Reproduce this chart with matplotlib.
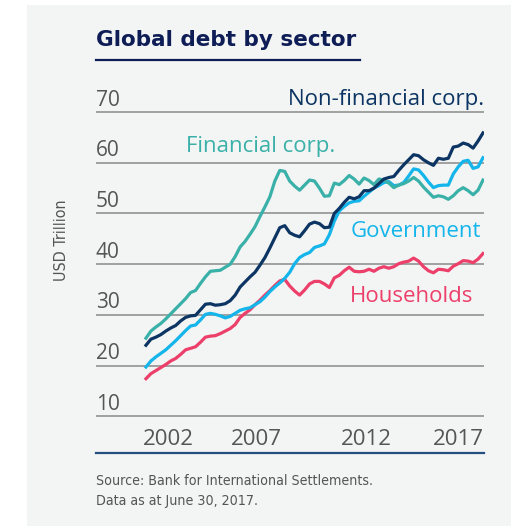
import numpy as np
import matplotlib
matplotlib.use("Agg")
import matplotlib.pyplot as plt
from matplotlib.patches import Rectangle
from matplotlib.lines import Line2D
import matplotlib.transforms as mtransforms

# quarterly observations, 2000Q1 .. 2017Q1 (USD trillion)
quarters = np.arange(2000, 2017.01, 0.25)

non_financial = [
    24.0, 25.2, 25.6, 26.1, 26.8, 27.4, 27.9, 28.8, 29.5, 29.8,
    29.9, 31.0, 32.1, 32.2, 31.9, 32.0, 32.2, 32.8, 33.9, 35.5,
    36.5, 37.5, 38.4, 39.8, 41.3, 43.2, 45.2, 47.2, 47.6, 46.2,
    45.7, 45.4, 46.6, 47.9, 48.3, 48.0, 47.2, 47.3, 50.0, 51.0,
    52.2, 53.2, 52.9, 53.3, 54.5, 54.5, 55.0, 55.9, 56.8, 57.1,
    57.3, 58.5, 59.6, 60.6, 61.6, 61.4, 60.6, 60.0, 59.5, 60.9,
    60.7, 60.9, 63.1, 63.3, 63.9, 63.6, 62.9, 64.3, 65.9,
]
financial = [
    25.4, 26.8, 27.6, 28.3, 29.2, 30.2, 31.2, 32.2, 33.2, 34.4,
    34.8, 36.2, 37.5, 38.6, 38.7, 38.8, 39.4, 40.0, 41.5, 43.4,
    44.5, 45.9, 47.4, 49.4, 51.3, 53.3, 56.4, 58.5, 58.3, 56.4,
    55.4, 54.6, 55.6, 56.6, 56.4, 55.0, 53.4, 53.5, 56.0, 55.7,
    56.5, 57.5, 56.8, 55.8, 57.0, 56.5, 55.7, 56.8, 56.6, 56.0,
    55.1, 55.6, 55.9, 56.4, 57.1, 56.4, 55.2, 54.2, 53.2, 53.5,
    53.3, 52.8, 53.5, 54.5, 55.1, 54.5, 53.7, 54.6, 56.6,
]
government = [
    19.7, 20.9, 21.7, 22.4, 23.1, 24.0, 24.9, 25.9, 26.9, 27.8,
    28.0, 29.0, 30.1, 30.3, 30.1, 29.8, 29.4, 29.7, 30.3, 30.9,
    31.2, 31.4, 32.0, 32.6, 33.5, 34.6, 35.5, 36.3, 37.2, 38.4,
    40.1, 41.3, 41.9, 42.3, 43.3, 43.6, 44.0, 45.8, 48.5, 50.5,
    51.4, 52.1, 52.4, 52.5, 53.4, 54.2, 55.0, 55.5, 56.1, 56.3,
    55.5, 55.6, 56.1, 57.4, 58.8, 58.6, 57.5, 56.2, 55.1, 55.5,
    55.6, 55.6, 57.8, 59.2, 60.3, 60.5, 58.9, 59.2, 61.0,
]
households = [
    17.4, 18.4, 19.0, 19.6, 20.2, 20.9, 21.4, 22.2, 23.1, 23.4,
    23.7, 24.6, 25.6, 25.8, 25.9, 26.3, 26.8, 27.3, 28.1, 29.5,
    30.3, 31.0, 32.0, 32.9, 33.9, 34.8, 35.8, 36.7, 37.0, 35.7,
    34.7, 33.9, 34.9, 36.1, 36.6, 36.6, 36.1, 35.4, 37.3, 37.8,
    38.7, 39.4, 38.6, 38.5, 38.6, 39.0, 38.6, 39.2, 39.5, 39.2,
    39.5, 40.1, 40.4, 40.6, 41.2, 40.6, 39.5, 38.7, 38.3, 39.0,
    38.9, 38.7, 39.6, 40.1, 40.7, 40.6, 40.3, 41.0, 42.1,
]

y_ticks = [10, 20, 30, 40, 50, 60, 70]
year_labels = ["2002", "2007", "2012", "2017"]

NAVY = "#0c3563"
TEAL = "#3ab1a8"
BLUE = "#13b5ea"
PINK = "#ec3f6a"
BG = "#f3f4f4"
GREY_TXT = "#555555"

main_font = ["Open Sans", "DejaVu Sans"]
narrow_font = ["DejaVu Sans"]

fig = plt.figure(figsize=(5.11, 5.26), dpi=100)
fig.patch.set_facecolor("white")
# grey panel behind everything
fig.patches.append(Rectangle((27 / 511, 0), 1, (526 - 5) / 526, transform=fig.transFigure,
                             facecolor=BG, edgecolor="none", zorder=-10))

ax = fig.add_axes([96 / 511, (526 - 453) / 526, (484 - 96) / 511, (453 - 102) / 526])
ax.set_facecolor("none")
ax.set_xlim(1997.48, 2017.05)
ax.set_ylim(2.74, 72)

ytrans = mtransforms.blended_transform_factory(ax.transAxes, ax.transData)
for v in y_ticks:
    ax.axhline(v, color="#8a8a8a", lw=1.1, zorder=1)
    ax.text(0, v + 1.3, str(v), transform=ytrans, ha="left", va="baseline",
            fontsize=15, color=GREY_TXT, family=main_font)

ax.plot(quarters, households, color=PINK, lw=2.3, zorder=3, solid_joinstyle="round")
ax.plot(quarters, government, color=BLUE, lw=2.3, zorder=4, solid_joinstyle="round")
ax.plot(quarters, financial, color=TEAL, lw=2.3, zorder=5, solid_joinstyle="round")
ax.plot(quarters, non_financial, color=NAVY, lw=2.3, zorder=6, solid_joinstyle="round")

for s in ["top", "right", "left"]:
    ax.spines[s].set_visible(False)
ax.spines["bottom"].set_color("#24507f")
ax.spines["bottom"].set_linewidth(1.6)
ax.set_yticks([])
ax.set_xticks([2001.11, 2005.55, 2011.10, 2015.74])
ax.set_xticklabels(year_labels, fontsize=16, color=GREY_TXT, family=main_font)
ax.tick_params(axis="x", length=0, pad=-17)

# series labels
lab = dict(va="baseline", fontsize=16, family=main_font)
ax.text(2017.05, 71.4, "Non-financial corp.", ha="right", color=NAVY, **lab)
ax.text(2002.02, 62.1, "Financial corp.", ha="left", color=TEAL, **lab)
ax.text(2016.9, 45.3, "Government", ha="right", color=BLUE, **lab)
ax.text(2010.29, 32.5, "Households", ha="left", color=PINK, **lab)

# title with underline
fig.text(96 / 511, 1 - 46 / 526, "Global debt by sector", ha="left", va="baseline",
         fontsize=15.5, fontweight="bold", color="#0e1d56", family=["DejaVu Sans"])
fig.add_artist(Line2D([96 / 511, 360 / 511], [1 - 60 / 526, 1 - 60 / 526], transform=fig.transFigure,
                      color="#0e1d56", lw=1.6))

fig.text(62 / 511, 1 - 240 / 526, "USD Trillion", rotation=90, ha="center", va="center",
         fontsize=11.5, color=GREY_TXT, family=narrow_font, fontstretch="condensed")
fig.text(96 / 511, 1 - 485 / 526, "Source: Bank for International Settlements.", ha="left", va="baseline",
         fontsize=10.2, color=GREY_TXT, family=narrow_font, fontstretch="condensed")
fig.text(96 / 511, 1 - 505 / 526, "Data as at June 30, 2017.", ha="left", va="baseline",
         fontsize=10.2, color=GREY_TXT, family=narrow_font, fontstretch="condensed")

fig.savefig("out.png", dpi=100, facecolor=fig.get_facecolor())
